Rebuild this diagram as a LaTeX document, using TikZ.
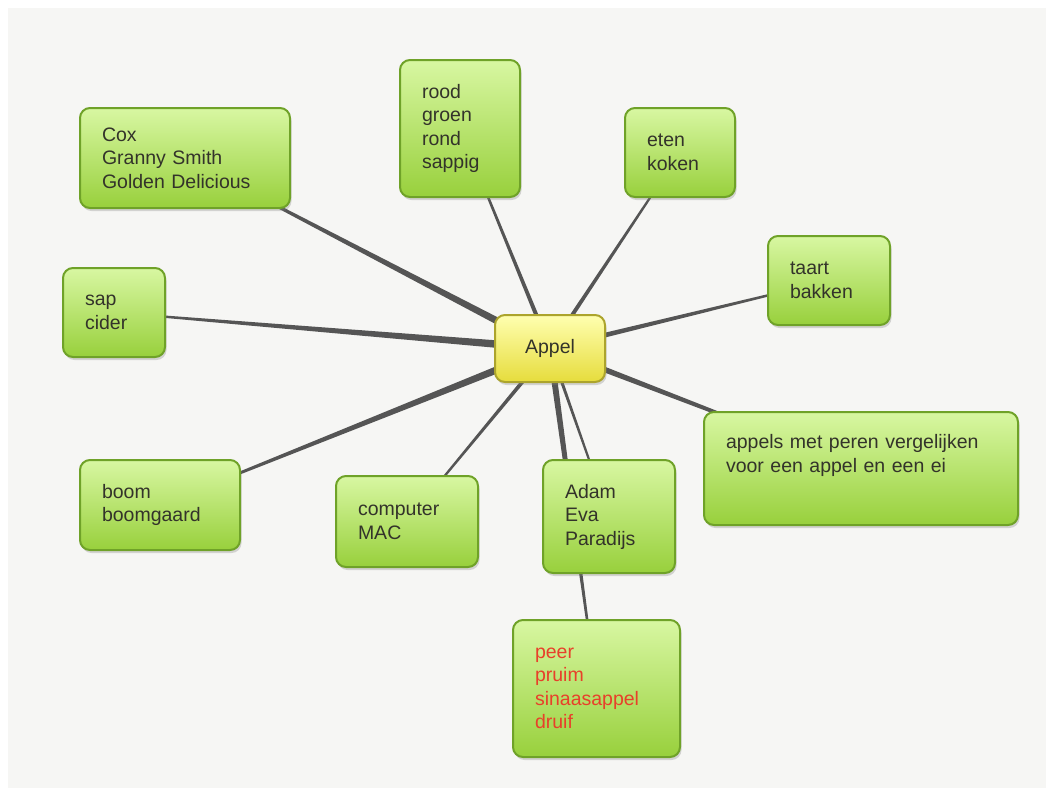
\documentclass[tikz,border=0pt]{standalone}
\usepackage{fontspec}
\setmainfont{Liberation Sans}
\usepackage{xcolor}
\usepackage{tikz}
\usetikzlibrary{positioning, calc, backgrounds, shadows}
\definecolor{paper}{HTML}{F6F6F4}
\definecolor{leaftop}{HTML}{D8F7A2}
\definecolor{leafmid}{HTML}{B2E65E}
\definecolor{leafbot}{HTML}{98D03C}
\definecolor{leafedge}{HTML}{6FA228}
\definecolor{coretop}{HTML}{FFFFB0}
\definecolor{coremid}{HTML}{F8F070}
\definecolor{corebot}{HTML}{E6DC3C}
\definecolor{coreedge}{HTML}{ACA42C}
\definecolor{inktext}{HTML}{33332A}
\definecolor{inkred}{HTML}{E8402A}
\definecolor{spokegray}{HTML}{555555}
\tikzset{
  leaf/.style  = {rectangle, rounded corners=10pt, draw=leafedge, line width=2pt,
                  top color=leaftop, middle color=leafmid, bottom color=leafbot,
                  inner xsep=22pt, inner ysep=0pt, align=left, text=inktext,
                  font=\fontsize{19.5}{23.5}\selectfont,
                  drop shadow={shadow xshift=1.5pt, shadow yshift=-3pt, opacity=0.3}},
  core/.style  = {rectangle, rounded corners=10pt, draw=coreedge, line width=2pt,
                  top color=coretop, middle color=coremid, bottom color=corebot,
                  align=center, text=inktext, font=\fontsize{19.5}{23.5}\selectfont,
                  drop shadow={shadow xshift=1.5pt, shadow yshift=-3pt, opacity=0.3}},
  spoke/.style = {fill=spokegray},
}
% tapered connector from the centre node to a leaf
\newcommand{\spoke}[1]{%
  \fill[spoke] ($(appel)!0.0095!90:(#1)$) -- ($(#1)!0.8pt!-90:(appel)$)
    -- ($(#1)!0.8pt!90:(appel)$) -- ($(appel)!0.0095!-90:(#1)$) -- cycle;}

\begin{document}
\begin{tikzpicture}[x=1pt, y=-1pt]

  % centre
  \node[core, minimum width=110pt, minimum height=67pt] (appel) at (550,348.5) {Appel};

  % leaves
  \node[leaf, minimum width=210pt, minimum height=100pt, text width=166pt] (cox) at (185,158)
       {Cox\\Granny Smith\\Golden Delicious};
  \node[leaf, minimum width=120pt, minimum height=137pt, text width=76pt] (rood) at (460,128.5)
       {rood\\groen\\rond\\sappig};
  \node[leaf, minimum width=110pt, minimum height=89pt, text width=66pt] (eten) at (680,152.5)
       {eten\\koken};
  \node[leaf, minimum width=122pt, minimum height=89pt, text width=78pt] (taart) at (829,280.5)
       {taart\\bakken};
  \node[leaf, minimum width=102pt, minimum height=89pt, text width=58pt] (sap) at (114,312.5)
       {sap\\cider};
  \node[leaf, minimum width=314pt, minimum height=113pt, text width=270pt] (appels) at (861,468.5)
       {appels met peren vergelijken\\voor een appel en een ei\\\strut};
  \node[leaf, minimum width=160pt, minimum height=90pt, text width=116pt] (boom) at (160,505)
       {boom\\boomgaard};
  \node[leaf, minimum width=142pt, minimum height=91pt, text width=98pt] (computer) at (407,521.5)
       {computer\\MAC};
  \node[leaf, minimum width=132pt, minimum height=113pt, text width=88pt] (adam) at (609,516.5)
       {Adam\\Eva\\Paradijs};
  \node[leaf, minimum width=167pt, minimum height=137pt, text width=123pt, text=inkred] (peer) at (596.5,688.5)
       {peer\\pruim\\sinaasappel\\druif};

  % paper and connectors behind the boxes
  \begin{scope}[on background layer]
    \fill[white] (0,0) rectangle (1054,796);
    \fill[paper] (8,8) rectangle (1046,788);
    \foreach \n in {cox, rood, eten, taart, sap, appels, boom, computer, adam, peer}
      {\spoke{\n}}
  \end{scope}

\end{tikzpicture}
\end{document}
